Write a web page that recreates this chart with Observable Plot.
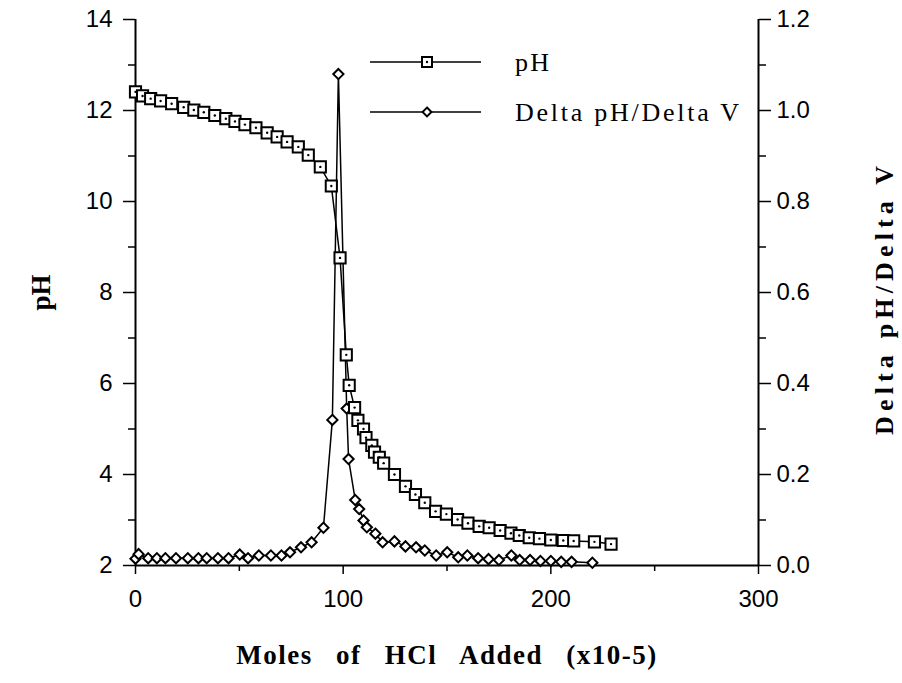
<!DOCTYPE html>
<html><head><meta charset="utf-8">
<script src="https://cdn.jsdelivr.net/npm/d3@7"></script>
<script src="https://cdn.jsdelivr.net/npm/@observablehq/plot@0.6"></script>
<style>
body{margin:0;background:#fff;}
#chart{width:902px;height:683px;}
</style></head><body><div id="chart"></div>
<script>
// pH titration data
const phX = [0,3.4,7.3,12.1,17.4,23.2,28.1,32.9,38.2,43.5,47.9,52.7,58.0,63.4,68.2,73.0,78.4,83.2,89.0,94.3,98.5,101.5,102.9,105.5,107.1,109.8,111.0,113.8,115.1,117.4,119.5,124.7,130.0,134.8,139.3,144.5,149.7,155.1,160.1,165.5,170.3,175.6,180.8,184.8,189.6,194.5,200,206,211,221,229];
const phY = [12.41,12.32,12.26,12.21,12.15,12.07,12.01,11.96,11.89,11.82,11.76,11.69,11.62,11.51,11.42,11.31,11.20,11.02,10.76,10.34,8.76,6.63,5.96,5.47,5.19,5.00,4.81,4.64,4.49,4.38,4.25,4.00,3.74,3.56,3.38,3.19,3.13,3.01,2.93,2.86,2.83,2.77,2.71,2.66,2.61,2.59,2.56,2.55,2.54,2.52,2.47];
// Delta pH / Delta V data
const dX = [0,1.5,6.1,10.3,14.4,19.5,25.2,30.3,34.3,39.7,44.8,50.2,54.2,59.4,65.2,70.3,74.4,79.7,84.8,90.5,94.8,97.7,101.7,102.6,105.8,107.7,109.8,111.4,115.5,119.0,124.7,130.0,135.1,139.3,144.8,150.1,155.4,159.8,165,170,175,181,185,190,195,200,205,210,220];
const dY = [0.015,0.025,0.016,0.016,0.016,0.016,0.016,0.016,0.016,0.016,0.016,0.024,0.016,0.022,0.022,0.022,0.029,0.040,0.051,0.083,0.32,1.08,0.345,0.234,0.144,0.124,0.099,0.084,0.070,0.051,0.053,0.042,0.040,0.033,0.022,0.029,0.018,0.022,0.016,0.014,0.012,0.022,0.012,0.012,0.010,0.010,0.008,0.008,0.006];
// tick values
const xTicks = [0,100,200,300];
const xMinor = [50,150,250];
const phTicks = [2,4,6,8,10,12,14];
const phMinor = [3,5,7,9,11,13];
const dTicks = [0,0.2,0.4,0.6,0.8,1.0,1.2];
const dMinor = [0.1,0.3,0.5,0.7,0.9,1.1];

const toLeft = d => 2 + d * 10;  // map right axis onto left scale
const phRows = phX.map((x, i) => ({x, ph: phY[i]}));
const dRows = dX.map((x, i) => ({x, d: dY[i]}));

const serif = "Liberation Serif, Times New Roman, serif";
const sans = "Liberation Sans, Arial, sans-serif";
const tfs = 24;

const chart = Plot.plot({
  width: 902, height: 683,
  marginLeft: 135, marginRight: 144, marginTop: 19, marginBottom: 118,
  style: {background: "#fff", color: "#000", fontFamily: sans, fontSize: tfs + "px", overflow: "visible"},
  x: {domain: [0, 300]},
  y: {domain: [2, 14]},
  marks: [
    Plot.ruleX([0], {strokeWidth: 2}),
    Plot.ruleX([300], {strokeWidth: 2}),
    Plot.ruleY([2], {strokeWidth: 2}),
    Plot.axisX(xTicks, {anchor: "bottom", tickSize: 9, tickPadding: 15, fontSize: tfs, label: null, strokeWidth: 1.5, className: "tl"}),
    Plot.axisX(xMinor, {anchor: "bottom", tickSize: 6, tickFormat: () => "", label: null, strokeWidth: 1.5}),
    Plot.axisY(phTicks, {anchor: "left", tickSize: 12, tickPadding: 11, fontSize: tfs, label: null, strokeWidth: 1.5, className: "tl"}),
    Plot.axisY(phMinor, {anchor: "left", tickSize: 7, tickFormat: () => "", label: null, strokeWidth: 1.5}),
    Plot.axisY(dTicks.map(toLeft), {anchor: "right", tickSize: 12, tickPadding: 6, fontSize: tfs, label: null, strokeWidth: 1.5, className: "tl",
      tickFormat: v => ((v - 2) / 10).toFixed(1)}),
    Plot.axisY(dMinor.map(toLeft), {anchor: "right", tickSize: 7, tickFormat: () => "", label: null, strokeWidth: 1.5}),
    Plot.line(dRows, {x: "x", y: r => toLeft(r.d), stroke: "#000", strokeWidth: 1.5}),
    Plot.line(phRows, {x: "x", y: "ph", stroke: "#000", strokeWidth: 1.5}),
    Plot.dot(dRows, {x: "x", y: r => toLeft(r.d), symbol: "diamond2", r: 4.6, fill: "#fff", stroke: "#000", strokeWidth: 2}),
    Plot.dot(phRows, {x: "x", y: "ph", symbol: "square", r: 6.3, fill: "#fff", stroke: "#000", strokeWidth: 2}),
    Plot.dot(phRows, {x: "x", y: "ph", r: 1.2, fill: "#000", stroke: null}),
    Plot.text(["pH"], {frameAnchor: "left", textAnchor: "middle", dx: -94, rotate: -90, fontFamily: serif, fontWeight: "bold", fontSize: 27}),
    Plot.text(["Delta pH/Delta V"], {frameAnchor: "right", textAnchor: "middle", dx: 126, dy: 8, rotate: -90, fontFamily: serif, fontWeight: "bold", fontSize: 26, className: "y2lab"}),
    Plot.text(["Moles of HCl Added (x10-5)"], {frameAnchor: "bottom", textAnchor: "middle", dy: 98, fontFamily: serif, fontWeight: "bold", fontSize: 27, className: "xlab"})
  ]
});
document.getElementById("chart").appendChild(chart);

const svg = d3.select(chart);
svg.selectAll("g[aria-label$='tick label']").attr("font-size", tfs).style("font-size", tfs + "px");
svg.selectAll(".xlab text").style("letter-spacing", "1.5px").style("word-spacing", "15px");
svg.selectAll(".y2lab text").attr("textLength", 269).attr("lengthAdjust", "spacing");

// legend
const legend = [
  {label: "pH", sym: d3.symbolSquare, size: 100, dotc: true, y: 62, len: 34},
  {label: "Delta pH/Delta V", sym: d3.symbolDiamond2, size: 50, dotc: false, y: 112, len: 224}
];
const lg = svg.append("g");
legend.forEach(e => {
  lg.append("line").attr("x1", 370).attr("x2", 481).attr("y1", e.y).attr("y2", e.y).attr("stroke", "#000").attr("stroke-width", 1.5);
  lg.append("path").attr("d", d3.symbol(e.sym, e.size)()).attr("transform", `translate(427,${e.y})`)
    .attr("fill", "#fff").attr("stroke", "#000").attr("stroke-width", 2);
  if (e.dotc) lg.append("circle").attr("cx", 427).attr("cy", e.y).attr("r", 1.2).attr("fill", "#000");
  lg.append("text").attr("x", 515).attr("y", e.y).attr("dy", "0.35em").attr("text-anchor", "start")
    .attr("font-family", serif).attr("font-size", 26)
    .attr("textLength", e.len).attr("lengthAdjust", "spacing").text(e.label);
});
</script>
</body></html>
